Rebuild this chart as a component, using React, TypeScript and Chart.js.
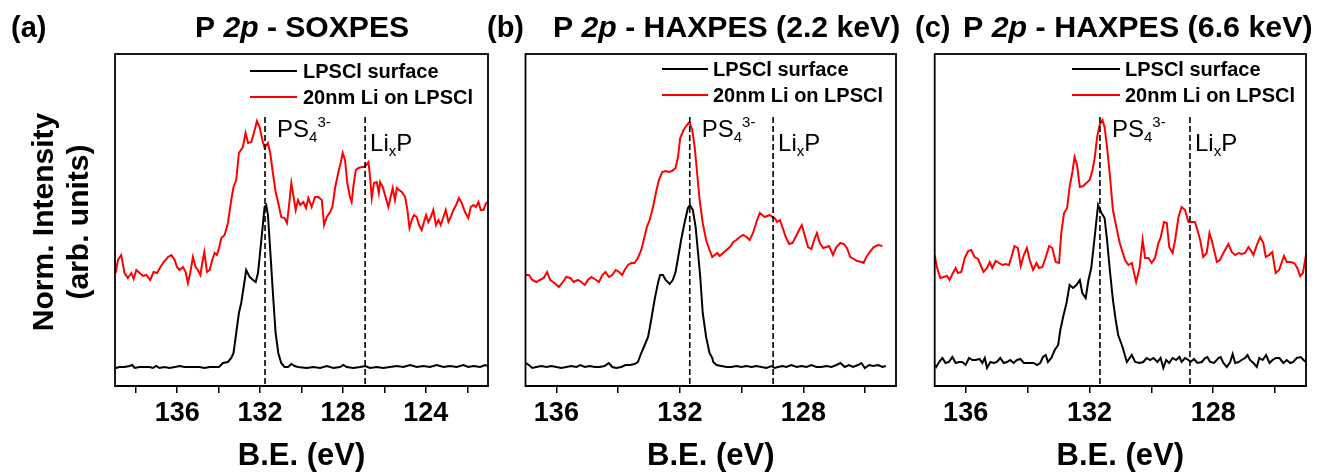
import { useEffect, useRef } from "react";
import { Chart, registerables } from "chart.js";

Chart.register(...registerables);

const FONT = "'Liberation Sans', Arial, Helvetica, sans-serif";

// ---------------- Data: (a) P 2p - SOXPES ----------------
const SOX_SURF_BE = [
  138.97, 138.78, 138.54, 138.3, 138.17, 138.05, 137.81, 137.57, 137.33, 137.17, 137.01, 136.85, 136.61, 136.37, 136.12,
  135.88, 135.64, 135.4, 135.16, 134.92, 134.68, 134.43, 134.19, 133.98, 133.79, 133.55, 133.39, 133.28, 133.15, 133.02,
  132.91, 132.79, 132.67, 132.5, 132.34, 132.21, 132.1, 132.02, 131.89, 131.78, 131.7, 131.62, 131.51, 131.38, 131.25,
  131.12, 130.98, 130.82, 130.65, 130.49, 130.33, 130.17, 129.75, 129.43, 129.1, 128.78, 128.46, 128.14, 127.98, 127.82,
  127.5, 127.17, 126.93, 126.69, 126.37, 126.05, 125.73, 125.4, 125.08, 124.76, 124.44, 124.12, 123.8, 123.47, 123.15,
  122.83, 122.51, 122.19, 121.95, 121.7, 121.38, 121.14, 121.0,
];
const SOX_SURF_I = [
  0.18, 0.19, 0.19, 0.2, 0.21, 0.18, 0.19, 0.19, 0.19, 0.18, 0.2, 0.18, 0.19, 0.18, 0.19,
  0.2, 0.19, 0.19, 0.19, 0.19, 0.18, 0.19, 0.19, 0.19, 0.23, 0.24, 0.28, 0.33, 0.53, 0.73,
  0.83, 0.99, 1.16, 1.09, 1.06, 1.04, 1.13, 1.29, 1.56, 1.79, 1.81, 1.71, 1.36, 0.93, 0.53,
  0.33, 0.23, 0.19, 0.19, 0.22, 0.2, 0.19, 0.18, 0.19, 0.18, 0.2, 0.18, 0.19, 0.21, 0.19,
  0.18, 0.19, 0.2, 0.18, 0.19, 0.18, 0.19, 0.2, 0.19, 0.21, 0.19, 0.2, 0.19, 0.21, 0.19,
  0.2, 0.19, 0.21, 0.19, 0.2, 0.19, 0.21, 0.2,
];
const SOX_LI_BE = [
  138.97, 138.86, 138.7, 138.54, 138.38, 138.21, 138.1, 137.97, 137.81, 137.65, 137.49, 137.3, 137.14, 136.97, 136.81,
  136.65, 136.44, 136.28, 136.12, 136.01, 135.88, 135.72, 135.59, 135.48, 135.37, 135.24, 135.11, 135.0, 134.88, 134.79,
  134.69, 134.56, 134.43, 134.31, 134.19, 134.08, 133.98, 133.87, 133.71, 133.55, 133.39, 133.28, 133.15, 133.02, 132.83,
  132.7, 132.58, 132.42, 132.26, 132.15, 132.02, 131.89, 131.78, 131.62, 131.51, 131.38, 131.25, 131.12, 130.98, 130.82,
  130.7, 130.61, 130.49, 130.38, 130.28, 130.17, 130.06, 129.91, 129.78, 129.67, 129.51, 129.35, 129.19, 129.02, 128.91,
  128.78, 128.62, 128.51, 128.38, 128.22, 128.11, 128.01, 127.9, 127.79, 127.66, 127.58, 127.5, 127.38, 127.25, 127.09,
  126.97, 126.88, 126.77, 126.69, 126.61, 126.5, 126.37, 126.27, 126.21, 126.08, 125.97, 125.81, 125.7, 125.6, 125.49,
  125.4, 125.29, 125.16, 125.0, 124.89, 124.79, 124.68, 124.57, 124.44, 124.33, 124.2, 124.09, 123.99, 123.88, 123.76,
  123.64, 123.51, 123.39, 123.28, 123.15, 123.04, 122.91, 122.8, 122.67, 122.54, 122.4, 122.27, 122.11, 121.95, 121.83,
  121.7, 121.58, 121.46, 121.35, 121.22, 121.09, 121.0,
];
const SOX_LI_I = [
  1.13, 1.26, 1.31, 1.13, 1.08, 1.13, 1.07, 1.16, 1.13, 1.1, 1.11, 1.06, 1.14, 1.13, 1.19,
  1.24, 1.29, 1.31, 1.26, 1.19, 1.16, 1.19, 1.14, 1.03, 1.13, 1.29, 1.19, 1.16, 1.11, 1.23,
  1.34, 1.14, 1.16, 1.26, 1.33, 1.31, 1.38, 1.48, 1.51, 1.63, 1.86, 1.99, 2.06, 2.33, 2.39,
  2.53, 2.43, 2.44, 2.56, 2.65, 2.59, 2.46, 2.38, 2.43, 2.33, 2.13, 1.94, 1.83, 1.69, 1.68,
  1.63, 1.79, 2.03, 1.89, 1.76, 1.86, 1.81, 1.84, 1.78, 1.88, 1.79, 1.89, 1.89, 1.86, 1.61,
  1.69, 1.74, 1.79, 1.98, 2.14, 2.23, 2.33, 2.26, 2.03, 1.89, 1.84, 1.99, 2.16, 2.18, 2.19,
  2.19, 2.21, 2.24, 2.09, 1.88, 2.03, 2.04, 1.93, 2.04, 1.99, 1.91, 1.79, 1.89, 1.98, 1.86,
  1.98, 1.96, 1.94, 1.89, 1.76, 1.58, 1.66, 1.71, 1.69, 1.61, 1.56, 1.64, 1.71, 1.64, 1.69,
  1.76, 1.61, 1.66, 1.61, 1.69, 1.76, 1.64, 1.69, 1.76, 1.81, 1.88, 1.83, 1.74, 1.68, 1.79,
  1.81, 1.79, 1.84, 1.76, 1.76, 1.83, 1.84,
];

// ---------------- Data: (b) P 2p - HAXPES (2.2 keV) ----------------
const H22_SURF_BE = [
  136.99, 136.89, 136.78, 136.65, 136.49, 136.32, 136.16, 136.0, 135.84, 135.68, 135.52, 135.35, 135.22, 135.08, 134.92,
  134.76, 134.6, 134.44, 134.3, 134.19, 134.06, 133.9, 133.76, 133.61, 133.47, 133.36, 133.25, 133.14, 133.03, 132.93,
  132.82, 132.71, 132.64, 132.55, 132.46, 132.33, 132.23, 132.14, 132.06, 131.96, 131.85, 131.74, 131.67, 131.58, 131.49,
  131.42, 131.34, 131.26, 131.15, 131.04, 130.95, 130.92, 130.81, 130.65, 130.49, 130.33, 130.17, 130.01, 129.84, 129.68,
  129.52, 129.36, 129.2, 129.03, 128.93, 128.82, 128.68, 128.55, 128.39, 128.22, 128.06, 127.9, 127.74, 127.58, 127.42,
  127.25, 127.09, 126.93, 126.8, 126.66, 126.52, 126.39, 126.23, 126.12, 126.01, 125.87, 125.74, 125.58, 125.44, 125.33,
];
const H22_SURF_I = [
  0.23, 0.21, 0.18, 0.19, 0.2, 0.19, 0.2, 0.19, 0.18, 0.19, 0.2, 0.19, 0.21, 0.19, 0.2,
  0.19, 0.19, 0.2, 0.23, 0.19, 0.18, 0.19, 0.21, 0.21, 0.22, 0.24, 0.33, 0.41, 0.49, 0.66,
  0.86, 1.03, 1.11, 1.11, 1.06, 1.02, 1.06, 1.14, 1.28, 1.46, 1.63, 1.78, 1.81, 1.76, 1.59,
  1.36, 1.09, 0.73, 0.49, 0.33, 0.28, 0.24, 0.21, 0.2, 0.19, 0.19, 0.2, 0.19, 0.2, 0.19,
  0.2, 0.19, 0.18, 0.2, 0.18, 0.19, 0.2, 0.19, 0.21, 0.19, 0.2, 0.19, 0.21, 0.19, 0.19,
  0.2, 0.19, 0.21, 0.23, 0.19, 0.21, 0.19, 0.21, 0.23, 0.18, 0.21, 0.2, 0.21, 0.19, 0.2,
];
const H22_LI_BE = [
  136.99, 136.89, 136.78, 136.65, 136.54, 136.41, 136.3, 136.2, 136.06, 135.92, 135.81, 135.68, 135.55, 135.44, 135.3,
  135.19, 135.08, 134.98, 134.87, 134.76, 134.62, 134.51, 134.41, 134.3, 134.19, 134.08, 133.97, 133.87, 133.79, 133.68,
  133.57, 133.47, 133.36, 133.25, 133.17, 133.07, 132.98, 132.87, 132.77, 132.68, 132.57, 132.46, 132.36, 132.25, 132.14,
  132.06, 131.99, 131.88, 131.77, 131.69, 131.6, 131.52, 131.45, 131.36, 131.26, 131.15, 131.04, 130.95, 130.87, 130.79,
  130.71, 130.6, 130.49, 130.38, 130.27, 130.17, 130.06, 129.95, 129.84, 129.74, 129.63, 129.52, 129.41, 129.33, 129.25,
  129.17, 129.09, 129.0, 128.93, 128.85, 128.76, 128.68, 128.57, 128.46, 128.35, 128.25, 128.14, 128.05, 127.96, 127.85,
  127.74, 127.63, 127.56, 127.47, 127.36, 127.25, 127.17, 127.04, 126.93, 126.8, 126.69, 126.59, 126.48, 126.37, 126.26,
  126.12, 126.05, 125.96, 125.85, 125.72, 125.58, 125.44,
];
const H22_LI_I = [
  1.11, 1.11, 1.06, 1.04, 1.06, 1.08, 1.14, 1.06, 1.03, 0.99, 1.03, 1.09, 1.08, 1.04, 1.06,
  1.04, 1.01, 1.06, 1.09, 1.07, 1.04, 1.11, 1.14, 1.09, 1.11, 1.16, 1.14, 1.11, 1.16, 1.21,
  1.23, 1.23, 1.28, 1.36, 1.46, 1.59, 1.66, 1.79, 1.94, 2.06, 2.14, 2.15, 2.14, 2.15, 2.18,
  2.29, 2.48, 2.56, 2.61, 2.64, 2.56, 2.39, 2.16, 1.86, 1.63, 1.46, 1.36, 1.29, 1.31, 1.33,
  1.3, 1.33, 1.36, 1.39, 1.44, 1.46, 1.49, 1.51, 1.49, 1.46, 1.53, 1.64, 1.73, 1.71, 1.69,
  1.7, 1.71, 1.69, 1.68, 1.64, 1.66, 1.59, 1.49, 1.42, 1.43, 1.49, 1.56, 1.61, 1.51, 1.39,
  1.37, 1.48, 1.53, 1.43, 1.38, 1.39, 1.4, 1.31, 1.39, 1.43, 1.42, 1.38, 1.29, 1.27, 1.25,
  1.24, 1.23, 1.29, 1.34, 1.39, 1.41, 1.4,
];

// ---------------- Data: (c) P 2p - HAXPES (6.6 keV) ----------------
const H66_SURF_BE = [
  137.0, 136.95, 136.86, 136.75, 136.65, 136.54, 136.43, 136.32, 136.21, 136.11, 136.0, 135.89, 135.78, 135.68, 135.55,
  135.46, 135.38, 135.31, 135.2, 135.09, 134.99, 134.88, 134.77, 134.66, 134.56, 134.45, 134.34, 134.23, 134.12, 134.02,
  133.91, 133.8, 133.69, 133.59, 133.5, 133.41, 133.34, 133.23, 133.12, 133.01, 132.94, 132.85, 132.74, 132.64, 132.53,
  132.42, 132.31, 132.23, 132.12, 132.03, 131.94, 131.83, 131.72, 131.61, 131.51, 131.43, 131.34, 131.24, 131.15, 131.07,
  130.93, 130.79, 130.63, 130.52, 130.38, 130.26, 130.15, 130.04, 129.93, 129.8, 129.7, 129.61, 129.52, 129.42, 129.31,
  129.2, 129.09, 129.02, 128.91, 128.8, 128.73, 128.62, 128.51, 128.37, 128.26, 128.19, 128.1, 127.97, 127.83, 127.76,
  127.67, 127.56, 127.45, 127.37, 127.29, 127.18, 127.08, 126.97, 126.89, 126.81, 126.7, 126.59, 126.51, 126.4, 126.29,
  126.18, 126.08, 125.97, 125.86, 125.73, 125.62, 125.51, 125.41, 125.3, 125.17, 125.08, 125.0,
];
const H66_SURF_I = [
  0.21, 0.19, 0.24, 0.28, 0.23, 0.24, 0.29, 0.23, 0.24, 0.24, 0.21, 0.28, 0.26, 0.26, 0.27,
  0.23, 0.28, 0.18, 0.24, 0.23, 0.24, 0.28, 0.23, 0.24, 0.26, 0.23, 0.26, 0.27, 0.23, 0.23,
  0.23, 0.23, 0.21, 0.23, 0.29, 0.31, 0.24, 0.28, 0.36, 0.41, 0.56, 0.69, 0.83, 1.01, 0.98,
  1.01, 1.06, 0.93, 0.88, 1.06, 1.18, 1.49, 1.81, 1.73, 1.68, 1.46, 1.16, 0.86, 0.66, 0.51,
  0.39, 0.24, 0.31, 0.24, 0.23, 0.24, 0.28, 0.26, 0.28, 0.24, 0.28, 0.18, 0.26, 0.23, 0.28,
  0.26, 0.29, 0.24, 0.28, 0.26, 0.24, 0.27, 0.23, 0.24, 0.28, 0.29, 0.24, 0.23, 0.28, 0.29,
  0.23, 0.19, 0.24, 0.32, 0.23, 0.24, 0.26, 0.28, 0.31, 0.26, 0.23, 0.19, 0.28, 0.26, 0.31,
  0.23, 0.26, 0.28, 0.28, 0.23, 0.26, 0.23, 0.24, 0.28, 0.29, 0.26, 0.24,
];
const H66_LI_BE = [
  137.0, 136.93, 136.82, 136.71, 136.6, 136.52, 136.41, 136.32, 136.25, 136.14, 136.03, 135.92, 135.82, 135.71, 135.6,
  135.49, 135.42, 135.31, 135.22, 135.14, 135.03, 134.92, 134.81, 134.71, 134.6, 134.52, 134.42, 134.31, 134.22, 134.12,
  134.02, 133.93, 133.82, 133.71, 133.63, 133.52, 133.41, 133.3, 133.2, 133.09, 132.98, 132.91, 132.82, 132.72, 132.64,
  132.55, 132.48, 132.4, 132.31, 132.2, 132.1, 131.99, 131.9, 131.83, 131.75, 131.67, 131.58, 131.51, 131.43, 131.34,
  131.24, 131.13, 131.02, 130.93, 130.85, 130.74, 130.63, 130.49, 130.38, 130.28, 130.2, 130.09, 129.99, 129.88, 129.77,
  129.7, 129.59, 129.5, 129.42, 129.31, 129.23, 129.12, 129.02, 128.91, 128.8, 128.69, 128.59, 128.51, 128.42, 128.32,
  128.21, 128.12, 128.05, 127.88, 127.78, 127.67, 127.51, 127.4, 127.29, 127.18, 127.08, 126.97, 126.86, 126.79, 126.7,
  126.59, 126.48, 126.38, 126.3, 126.19, 126.09, 125.98, 125.87, 125.71, 125.62, 125.51, 125.38, 125.28, 125.19, 125.1,
  125.0,
];
const H66_LI_I = [
  1.31, 1.19, 1.08, 1.09, 1.1, 1.06, 1.13, 1.18, 1.13, 1.14, 1.28, 1.35, 1.36, 1.29, 1.27,
  1.19, 1.14, 1.18, 1.24, 1.18, 1.25, 1.23, 1.21, 1.22, 1.21, 1.29, 1.4, 1.38, 1.2, 1.31,
  1.38, 1.26, 1.16, 1.23, 1.18, 1.19, 1.29, 1.4, 1.38, 1.24, 1.23, 1.53, 1.73, 1.78, 1.99,
  2.14, 2.29, 2.21, 1.99, 2.0, 2.03, 2.06, 2.16, 2.28, 2.49, 2.61, 2.66, 2.59, 2.39, 2.11,
  1.76, 1.59, 1.43, 1.34, 1.26, 1.21, 1.23, 1.04, 1.18, 1.46, 1.28, 1.28, 1.23, 1.28, 1.43,
  1.48, 1.64, 1.63, 1.39, 1.33, 1.46, 1.69, 1.79, 1.76, 1.64, 1.64, 1.64, 1.56, 1.46, 1.29,
  1.33, 1.53, 1.46, 1.24, 1.26, 1.33, 1.42, 1.34, 1.31, 1.33, 1.32, 1.33, 1.39, 1.36, 1.31,
  1.41, 1.49, 1.43, 1.29, 1.31, 1.34, 1.13, 1.16, 1.3, 1.24, 1.24, 1.23, 1.18, 1.1, 1.13,
  1.31,
];

// ---------------- Axes / labels ----------------
const SERIES_LABELS = ["LPSCl surface", "20nm Li on LPSCl"];
const SERIES_COLORS = ["#000000", "#ff0000"];
const SOX_TICKS = [138, 136, 134, 132, 130, 128, 126, 124, 122];
const HAX_TICKS = [136, 134, 132, 130, 128, 126];
const LABELED_TICKS = [136, 132, 128, 124];
const SOX_MARKERS = [131.76, 126.93];
const H22_MARKERS = [131.68, 128.98];
const H66_MARKERS = [131.66, 128.75];
const X_TITLE = "B.E. (eV)";
const Y_TITLE = ["Norm. Intensity", "(arb. units)"];

type Panel = {
  id: string;
  letter: string;
  titleTail: string;
  letterX: number;
  titleX0: number;
  titleX1: number;
  left: number;
  right: number;
  min: number;
  max: number;
  ticks: number[];
  surfBE: number[];
  surfI: number[];
  liBE: number[];
  liI: number[];
  markers: number[];
  legendLine: [number, number];
  legendText: number;
  legendRows: [number, number];
  yTitle: boolean;
};

const PANELS: Panel[] = [
  {
    id: "a", letter: "(a)", titleTail: " - SOXPES", letterX: 11, titleX0: 195, titleX1: 409,
    left: 115, right: 488, min: 121, max: 139, ticks: SOX_TICKS,
    surfBE: SOX_SURF_BE, surfI: SOX_SURF_I, liBE: SOX_LI_BE, liI: SOX_LI_I, markers: SOX_MARKERS,
    legendLine: [250, 297], legendText: 303, legendRows: [71, 97], yTitle: true,
  },
  {
    id: "b", letter: "(b)", titleTail: " - HAXPES (2.2 keV)", letterX: 487, titleX0: 553, titleX1: 900,
    left: 525.5, right: 896, min: 125, max: 137, ticks: HAX_TICKS,
    surfBE: H22_SURF_BE, surfI: H22_SURF_I, liBE: H22_LI_BE, liI: H22_LI_I, markers: H22_MARKERS,
    legendLine: [662, 708], legendText: 713, legendRows: [69, 95], yTitle: false,
  },
  {
    id: "c", letter: "(c)", titleTail: " - HAXPES (6.6 keV)", letterX: 915, titleX0: 963, titleX1: 1313,
    left: 934.7, right: 1306, min: 125, max: 137, ticks: HAX_TICKS,
    surfBE: H66_SURF_BE, surfI: H66_SURF_I, liBE: H66_LI_BE, liI: H66_LI_I, markers: H66_MARKERS,
    legendLine: [1072, 1120], legendText: 1125, legendRows: [69, 95], yTitle: false,
  },
];

const W = 1317;
const H = 475;
const TOP = 54;
const BOTTOM = 386;

const zip = (xs: number[], ys: number[]) => xs.map((v, i) => ({ x: v, y: ys[i] }));

function drawRuns(ctx: CanvasRenderingContext2D, runs: { text: string; font: string; dy: number }[], x: number, y: number) {
  let cx = x;
  for (const r of runs) {
    ctx.font = r.font;
    ctx.fillText(r.text, cx, y + r.dy);
    cx += ctx.measureText(r.text).width;
  }
}

function PanelChart({ p }: { p: Panel }) {
  const ref = useRef<HTMLCanvasElement>(null);
  useEffect(() => {
    const canvas = ref.current;
    if (!canvas) return;
    const overlay = {
      id: "overlay_" + p.id,
      afterDatasetsDraw(chart: any) {
        const { ctx, chartArea: a } = chart;
        const xs = chart.scales.x;
        ctx.save();
        // marker lines
        ctx.strokeStyle = "#000";
        ctx.lineWidth = 1.6;
        ctx.setLineDash([6, 3]);
        for (const m of p.markers) {
          const px = xs.getPixelForValue(m);
          ctx.beginPath();
          ctx.moveTo(px, 117);
          ctx.lineTo(px, a.bottom);
          ctx.stroke();
        }
        ctx.setLineDash([]);
        // frame
        ctx.lineWidth = 1.8;
        ctx.strokeRect(a.left, a.top, a.right - a.left, a.bottom - a.top);
        // annotations
        ctx.fillStyle = "#000";
        ctx.textAlign = "left";
        ctx.textBaseline = "alphabetic";
        const reg = `24px ${FONT}`;
        const small = `15px ${FONT}`;
        const p1 = xs.getPixelForValue(p.markers[0]) + 12;
        drawRuns(ctx, [
          { text: "PS", font: reg, dy: 0 },
          { text: "4", font: small, dy: 5 },
          { text: "3-", font: small, dy: -10 },
        ], p1, 137);
        const p2 = xs.getPixelForValue(p.markers[1]) + 5;
        drawRuns(ctx, [
          { text: "Li", font: reg, dy: 0 },
          { text: "x", font: small, dy: 5 },
          { text: "P", font: reg, dy: 0 },
        ], p2, 151);
        // legend
        ctx.textBaseline = "middle";
        ctx.font = `bold 20px ${FONT}`;
        for (let i = 0; i < 2; i++) {
          const y = p.legendRows[i];
          ctx.strokeStyle = SERIES_COLORS[i];
          ctx.lineWidth = 2;
          ctx.beginPath();
          ctx.moveTo(p.legendLine[0], y);
          ctx.lineTo(p.legendLine[1], y);
          ctx.stroke();
          ctx.fillStyle = "#000";
          ctx.fillText(SERIES_LABELS[i], p.legendText, y + 1);
        }
        // letter + title
        ctx.textBaseline = "alphabetic";
        ctx.font = `bold 29px ${FONT}`;
        ctx.fillText(p.letter, p.letterX, 37);
        const runs = [
          { text: "P ", it: false },
          { text: "2p", it: true },
          { text: p.titleTail, it: false },
        ];
        const base = 28;
        let w = 0;
        for (const r of runs) {
          ctx.font = `${r.it ? "italic " : ""}bold ${base}px ${FONT}`;
          w += ctx.measureText(r.text).width;
        }
        const size = Math.max(20, Math.min(34, (base * (p.titleX1 - p.titleX0)) / w));
        drawRuns(
          ctx,
          runs.map((r) => ({ text: r.text, font: `${r.it ? "italic " : ""}bold ${size.toFixed(1)}px ${FONT}`, dy: 0 })),
          p.titleX0,
          37
        );
        // y title
        if (p.yTitle) {
          ctx.font = `bold 30px ${FONT}`;
          ctx.textAlign = "center";
          ctx.textBaseline = "middle";
          const xsPos = [45, 80];
          for (let i = 0; i < Y_TITLE.length; i++) {
            ctx.save();
            ctx.translate(xsPos[i], 222);
            ctx.rotate(-Math.PI / 2);
            ctx.fillText(Y_TITLE[i], 0, 0);
            ctx.restore();
          }
        }
        ctx.restore();
      },
    };

    const chart = new Chart(canvas, {
      type: "line",
      data: {
        datasets: [
          {
            label: SERIES_LABELS[0],
            data: zip(p.surfBE, p.surfI),
            borderColor: SERIES_COLORS[0],
            borderWidth: 2,
            pointRadius: 0,
            tension: 0,
            fill: false,
          },
          {
            label: SERIES_LABELS[1],
            data: zip(p.liBE, p.liI),
            borderColor: SERIES_COLORS[1],
            borderWidth: 2,
            pointRadius: 0,
            tension: 0,
            fill: false,
          },
        ],
      },
      options: {
        responsive: false,
        maintainAspectRatio: false,
        animation: false,
        events: [],
        layout: { padding: { left: p.left, right: W - p.right, top: TOP, bottom: 0 } },
        plugins: { legend: { display: false }, tooltip: { enabled: false } },
        scales: {
          x: {
            type: "linear",
            reverse: true,
            min: p.min,
            max: p.max,
            afterFit: (s: any) => {
              s.height = H - BOTTOM;
            },
            afterBuildTicks: (s: any) => {
              s.ticks = p.ticks.map((v) => ({ value: v }));
            },
            ticks: {
              autoSkip: false,
              maxRotation: 0,
              color: "#000",
              padding: 4,
              font: { family: FONT, size: 27, weight: "bold" },
              callback: (v: any) => {
                const n = Math.round(Number(v));
                return LABELED_TICKS.includes(n) ? String(n) : "";
              },
            },
            grid: { drawOnChartArea: false, drawTicks: true, tickLength: 7, color: "#000", lineWidth: 1.5 },
            border: { display: true, color: "#000", width: 1.8 },
            title: {
              display: true,
              text: X_TITLE,
              color: "#000",
              padding: 0,
              font: { family: FONT, size: 31, weight: "bold" },
            },
          },
          y: { type: "linear", display: false, min: 0, max: 3.32 },
        },
      },
      plugins: [overlay],
    } as any);
    return () => chart.destroy();
  }, [p]);
  return (
    <canvas
      ref={ref}
      width={W}
      height={H}
      style={{ position: "absolute", left: 0, top: 0, width: W, height: H }}
    />
  );
}

export default function App() {
  return (
    <div style={{ position: "absolute", left: 0, top: 0, width: W, height: H, background: "#fff", overflow: "hidden" }}>
      {PANELS.map((p) => (
        <PanelChart key={p.id} p={p} />
      ))}
    </div>
  );
}
